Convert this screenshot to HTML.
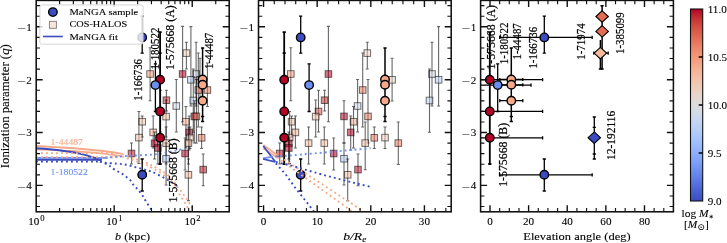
<!DOCTYPE html>
<html><head><meta charset="utf-8"><title>Ionization parameter</title>
<style>html,body{margin:0;padding:0;background:#fff;overflow:hidden}svg{display:block}text{stroke:#000;stroke-width:.1px}</style></head>
<body>
<svg width="727" height="243" viewBox="0 0 727 243" font-family="'Liberation Serif', 'DejaVu Serif', serif">
<rect x="0" y="0" width="727" height="243" fill="#fff"/>
<defs>
<clipPath id="c0"><rect x="36.2" y="0.4" width="193.0" height="211.4"/></clipPath>
<clipPath id="c1"><rect x="258.5" y="0.4" width="192.7" height="211.4"/></clipPath>
<clipPath id="c2"><rect x="480.6" y="0.4" width="192.79999999999995" height="211.4"/></clipPath>
<linearGradient id="cw" x1="0" y1="0" x2="0" y2="1"><stop offset="0.00" stop-color="#b30326"/><stop offset="0.05" stop-color="#c53233"/><stop offset="0.10" stop-color="#d65243"/><stop offset="0.15" stop-color="#e36c54"/><stop offset="0.20" stop-color="#ed8467"/><stop offset="0.25" stop-color="#f39879"/><stop offset="0.30" stop-color="#f6ab8d"/><stop offset="0.35" stop-color="#f6bca2"/><stop offset="0.40" stop-color="#f1cab6"/><stop offset="0.45" stop-color="#e8d5ca"/><stop offset="0.50" stop-color="#dddcdb"/><stop offset="0.55" stop-color="#cfd9ea"/><stop offset="0.60" stop-color="#c0d3f5"/><stop offset="0.65" stop-color="#afcafb"/><stop offset="0.70" stop-color="#9dbdfe"/><stop offset="0.75" stop-color="#8daffd"/><stop offset="0.80" stop-color="#7b9ef8"/><stop offset="0.85" stop-color="#698bef"/><stop offset="0.90" stop-color="#5876e2"/><stop offset="0.95" stop-color="#4860d1"/><stop offset="1.00" stop-color="#3a4cc0"/></linearGradient>
</defs>
<g clip-path="url(#c0)">
<path d="M186.4 42.3V69.0M184.9 42.3h3M184.9 69.0h3" stroke="#000" stroke-opacity="0.6" stroke-width="1.1" fill="none"/><rect x="183.1" y="49.8" width="6.6" height="6.6" fill="#eecfbe" fill-opacity="0.55" stroke="#000" stroke-opacity="0.55" stroke-width="1.0"/>
<path d="M150.1 47.8V100.7M148.6 47.8h3M148.6 100.7h3" stroke="#000" stroke-opacity="0.6" stroke-width="1.1" fill="none"/><rect x="146.8" y="70.7" width="6.6" height="6.6" fill="#f49d7e" fill-opacity="0.55" stroke="#000" stroke-opacity="0.55" stroke-width="1.0"/>
<path d="M182.6 26.4V121.7M181.1 26.4h3M181.1 121.7h3" stroke="#000" stroke-opacity="0.6" stroke-width="1.1" fill="none"/><rect x="179.3" y="70.7" width="6.6" height="6.6" fill="#b30326" fill-opacity="0.55" stroke="#000" stroke-opacity="0.55" stroke-width="1.0"/>
<path d="M196.1 42.3V106.0M194.6 42.3h3M194.6 106.0h3" stroke="#000" stroke-opacity="0.6" stroke-width="1.1" fill="none"/><rect x="192.8" y="70.7" width="6.6" height="6.6" fill="#cfd9ea" fill-opacity="0.55" stroke="#000" stroke-opacity="0.55" stroke-width="1.0"/>
<path d="M190.9 26.6V106.0M189.4 26.6h3M189.4 106.0h3" stroke="#000" stroke-opacity="0.6" stroke-width="1.1" fill="none"/><rect x="187.6" y="76.5" width="6.6" height="6.6" fill="#b9d0f8" fill-opacity="0.55" stroke="#000" stroke-opacity="0.55" stroke-width="1.0"/>
<path d="M200.0 58.3V101.0M198.5 58.3h3M198.5 101.0h3" stroke="#000" stroke-opacity="0.6" stroke-width="1.1" fill="none"/><rect x="196.7" y="76.5" width="6.6" height="6.6" fill="#e8d5ca" fill-opacity="0.55" stroke="#000" stroke-opacity="0.55" stroke-width="1.0"/>
<path d="M198.3 53.0V127.0M196.8 53.0h3M196.8 127.0h3" stroke="#000" stroke-opacity="0.6" stroke-width="1.1" fill="none"/><rect x="195.0" y="86.7" width="6.6" height="6.6" fill="#ea7b60" fill-opacity="0.55" stroke="#000" stroke-opacity="0.55" stroke-width="1.0"/>
<path d="M207.4 63.0V106.5M205.9 63.0h3M205.9 106.5h3" stroke="#000" stroke-opacity="0.6" stroke-width="1.1" fill="none"/><rect x="204.1" y="86.7" width="6.6" height="6.6" fill="#ea7b60" fill-opacity="0.55" stroke="#000" stroke-opacity="0.55" stroke-width="1.0"/>
<path d="M166.4 90.2V111.0M164.9 90.2h3M164.9 111.0h3" stroke="#000" stroke-opacity="0.6" stroke-width="1.1" fill="none"/><rect x="163.1" y="96.9" width="6.6" height="6.6" fill="#c53233" fill-opacity="0.55" stroke="#000" stroke-opacity="0.55" stroke-width="1.0"/>
<path d="M193.3 69.0V132.3M191.8 69.0h3M191.8 132.3h3" stroke="#000" stroke-opacity="0.6" stroke-width="1.1" fill="none"/><rect x="190.0" y="97.2" width="6.6" height="6.6" fill="#c0d3f5" fill-opacity="0.55" stroke="#000" stroke-opacity="0.55" stroke-width="1.0"/>
<path d="M176.3 79.5V132.0M174.8 79.5h3M174.8 132.0h3" stroke="#000" stroke-opacity="0.6" stroke-width="1.1" fill="none"/><rect x="173.0" y="102.7" width="6.6" height="6.6" fill="#cfd9ea" fill-opacity="0.55" stroke="#000" stroke-opacity="0.55" stroke-width="1.0"/>
<path d="M160.6 90.2V132.0M159.1 90.2h3M159.1 132.0h3" stroke="#000" stroke-opacity="0.6" stroke-width="1.1" fill="none"/><rect x="157.3" y="108.2" width="6.6" height="6.6" fill="#de624e" fill-opacity="0.55" stroke="#000" stroke-opacity="0.55" stroke-width="1.0"/>
<path d="M166.1 100.0V137.0M164.6 100.0h3M164.6 137.0h3" stroke="#000" stroke-opacity="0.6" stroke-width="1.1" fill="none"/><rect x="162.8" y="113.3" width="6.6" height="6.6" fill="#f4c2aa" fill-opacity="0.55" stroke="#000" stroke-opacity="0.55" stroke-width="1.0"/>
<path d="M194.3 100.7V143.0M192.8 100.7h3M192.8 143.0h3" stroke="#000" stroke-opacity="0.6" stroke-width="1.1" fill="none"/><rect x="191.0" y="113.1" width="6.6" height="6.6" fill="#b30326" fill-opacity="0.55" stroke="#000" stroke-opacity="0.55" stroke-width="1.0"/>
<path d="M196.4 79.5V143.0M194.9 79.5h3M194.9 143.0h3" stroke="#000" stroke-opacity="0.6" stroke-width="1.1" fill="none"/><rect x="193.1" y="113.1" width="6.6" height="6.6" fill="#ea7b60" fill-opacity="0.55" stroke="#000" stroke-opacity="0.55" stroke-width="1.0"/>
<path d="M142.2 116.0V137.0M140.7 116.0h3M140.7 137.0h3" stroke="#000" stroke-opacity="0.6" stroke-width="1.1" fill="none"/><rect x="138.9" y="118.4" width="6.6" height="6.6" fill="#f3c5af" fill-opacity="0.55" stroke="#000" stroke-opacity="0.55" stroke-width="1.0"/>
<path d="M185.9 106.5V148.0M184.4 106.5h3M184.4 148.0h3" stroke="#000" stroke-opacity="0.6" stroke-width="1.1" fill="none"/><rect x="182.6" y="118.4" width="6.6" height="6.6" fill="#f7b295" fill-opacity="0.55" stroke="#000" stroke-opacity="0.55" stroke-width="1.0"/>
<path d="M153.2 116.0V148.0M151.7 116.0h3M151.7 148.0h3" stroke="#000" stroke-opacity="0.6" stroke-width="1.1" fill="none"/><rect x="149.9" y="129.1" width="6.6" height="6.6" fill="#f7b295" fill-opacity="0.55" stroke="#000" stroke-opacity="0.55" stroke-width="1.0"/>
<path d="M189.2 116.0V150.0M187.7 116.0h3M187.7 150.0h3" stroke="#000" stroke-opacity="0.6" stroke-width="1.1" fill="none"/><rect x="185.9" y="129.1" width="6.6" height="6.6" fill="#b30326" fill-opacity="0.55" stroke="#000" stroke-opacity="0.55" stroke-width="1.0"/>
<path d="M138.9 111.5V163.5M137.4 111.5h3M137.4 163.5h3" stroke="#000" stroke-opacity="0.6" stroke-width="1.1" fill="none"/><rect x="135.6" y="134.3" width="6.6" height="6.6" fill="#f2c7b2" fill-opacity="0.55" stroke="#000" stroke-opacity="0.55" stroke-width="1.0"/>
<path d="M190.0 127.0V148.5M188.5 127.0h3M188.5 148.5h3" stroke="#000" stroke-opacity="0.6" stroke-width="1.1" fill="none"/><rect x="186.7" y="134.3" width="6.6" height="6.6" fill="#eecfbe" fill-opacity="0.55" stroke="#000" stroke-opacity="0.55" stroke-width="1.0"/>
<path d="M201.6 127.0V148.5M200.1 127.0h3M200.1 148.5h3" stroke="#000" stroke-opacity="0.6" stroke-width="1.1" fill="none"/><rect x="198.3" y="134.5" width="6.6" height="6.6" fill="#ea7b60" fill-opacity="0.55" stroke="#000" stroke-opacity="0.55" stroke-width="1.0"/>
<path d="M154.6 132.0V159.0M153.1 132.0h3M153.1 159.0h3" stroke="#000" stroke-opacity="0.6" stroke-width="1.1" fill="none"/><rect x="151.3" y="140.0" width="6.6" height="6.6" fill="#b30326" fill-opacity="0.55" stroke="#000" stroke-opacity="0.55" stroke-width="1.0"/>
<path d="M166.1 127.0V164.0M164.6 127.0h3M164.6 164.0h3" stroke="#000" stroke-opacity="0.6" stroke-width="1.1" fill="none"/><rect x="162.8" y="139.8" width="6.6" height="6.6" fill="#f5c0a7" fill-opacity="0.55" stroke="#000" stroke-opacity="0.55" stroke-width="1.0"/>
<path d="M188.4 127.0V164.0M186.9 127.0h3M186.9 164.0h3" stroke="#000" stroke-opacity="0.6" stroke-width="1.1" fill="none"/><rect x="185.1" y="139.8" width="6.6" height="6.6" fill="#f5c0a7" fill-opacity="0.55" stroke="#000" stroke-opacity="0.55" stroke-width="1.0"/>
<path d="M157.9 138.0V164.0M156.4 138.0h3M156.4 164.0h3" stroke="#000" stroke-opacity="0.6" stroke-width="1.1" fill="none"/><rect x="154.6" y="144.7" width="6.6" height="6.6" fill="#b30326" fill-opacity="0.55" stroke="#000" stroke-opacity="0.55" stroke-width="1.0"/>
<path d="M131.5 143.0V164.0M130.0 143.0h3M130.0 164.0h3" stroke="#000" stroke-opacity="0.6" stroke-width="1.1" fill="none"/><rect x="128.2" y="150.2" width="6.6" height="6.6" fill="#bb1a2b" fill-opacity="0.55" stroke="#000" stroke-opacity="0.55" stroke-width="1.0"/>
<path d="M185.1 138.0V170.0M183.6 138.0h3M183.6 170.0h3" stroke="#000" stroke-opacity="0.6" stroke-width="1.1" fill="none"/><rect x="181.8" y="150.2" width="6.6" height="6.6" fill="#b30326" fill-opacity="0.55" stroke="#000" stroke-opacity="0.55" stroke-width="1.0"/>
<path d="M166.1 143.0V185.0M164.6 143.0h3M164.6 185.0h3" stroke="#000" stroke-opacity="0.6" stroke-width="1.1" fill="none"/><rect x="162.8" y="155.4" width="6.6" height="6.6" fill="#b6cef9" fill-opacity="0.55" stroke="#000" stroke-opacity="0.55" stroke-width="1.0"/>
<path d="M203.2 154.0V185.7M201.7 154.0h3M201.7 185.7h3" stroke="#000" stroke-opacity="0.6" stroke-width="1.1" fill="none"/><rect x="199.9" y="166.3" width="6.6" height="6.6" fill="#bb1a2b" fill-opacity="0.55" stroke="#000" stroke-opacity="0.55" stroke-width="1.0"/>
<path d="M188.4 159.0V200.6M186.9 159.0h3M186.9 200.6h3" stroke="#000" stroke-opacity="0.6" stroke-width="1.1" fill="none"/><rect x="185.1" y="171.5" width="6.6" height="6.6" fill="#f6ba9f" fill-opacity="0.55" stroke="#000" stroke-opacity="0.55" stroke-width="1.0"/>
<path d="M36 146.0 C70 147.5 100 150 122.5 153.8" stroke="#f6a98a" stroke-width="1.85" fill="none"/><path d="M36 149.4 C70 150.5 100 152.5 122.5 156.4" stroke="#f6a98a" stroke-width="1.85" fill="none"/><path d="M36 157.8 H108" stroke="#6c8ef1" stroke-width="1.85" fill="none"/><path d="M36 148.2 C55 149.5 75 152 86 155.2 S97 159 101 160.6" stroke="#3a4cc0" stroke-width="1.85" fill="none"/><path d="M36 159.7 H102" stroke="#3a4cc0" stroke-width="1.85" fill="none"/><path d="M36 153.1 H120" stroke="#f6a98a" stroke-dasharray="1.9 3.1" stroke-width="1.9" fill="none"/><path d="M36 157.2 H120" stroke="#f6a98a" stroke-dasharray="1.9 3.1" stroke-width="1.9" fill="none"/><path d="M122.4 153.8C123.9 154.4 127.7 156.1 131.5 157.5C135.3 158.9 141.9 161.0 145.5 162.4C149.1 163.8 150.3 164.6 153.0 166.0C155.7 167.4 158.8 168.9 161.7 170.8C164.6 172.7 167.7 174.6 170.5 177.5C173.3 180.4 176.5 185.6 178.3 188.0C180.1 190.4 180.4 190.6 181.4 191.9C182.4 193.2 183.5 194.6 184.5 196.0C185.5 197.4 186.7 198.7 187.6 200.1C188.5 201.5 189.2 202.9 190.0 204.3C190.8 205.7 191.8 207.1 192.5 208.4C193.2 209.7 194.2 211.4 194.5 212.0" stroke="#f6a98a" stroke-dasharray="1.9 3.1" stroke-width="1.9" fill="none"/><path d="M122.4 156.4C123.8 156.9 127.2 158.3 130.9 159.6C134.6 160.9 141.1 162.8 144.6 164.2C148.1 165.6 149.3 166.4 152.0 167.8C154.7 169.2 157.8 170.9 160.7 172.8C163.6 174.8 167.0 177.5 169.3 179.5C171.6 181.5 173.1 182.7 174.6 184.9C176.1 187.1 177.4 190.6 178.5 192.7C179.6 194.8 180.5 195.8 181.4 197.3C182.3 198.8 183.3 200.2 184.2 201.6C185.1 203.0 185.8 204.6 186.6 205.9C187.4 207.2 188.2 208.3 188.8 209.3C189.5 210.3 190.2 211.6 190.5 212.0" stroke="#f6a98a" stroke-dasharray="1.9 3.1" stroke-width="1.9" fill="none"/><path d="M100.0 158.0C104.5 157.7 118.3 156.6 127.0 156.0C135.7 155.4 145.7 155.1 152.0 154.6C158.3 154.1 159.8 153.7 165.0 152.8C170.2 151.9 180.0 149.6 183.0 149.0" stroke="#6c8ef1" stroke-dasharray="1.9 3.1" stroke-width="1.9" fill="none"/><path d="M36 161.5 H100 " stroke="#3a4cc0" stroke-dasharray="1.9 3.1" stroke-width="1.9" fill="none"/><path d="M100.0 161.6C101.0 161.8 103.4 162.7 106.2 163.0C109.0 163.3 113.3 163.3 116.7 163.6C120.1 163.9 123.4 164.2 126.6 164.8C129.8 165.4 132.8 166.5 135.9 167.3C139.0 168.1 142.6 169.1 145.2 169.8C147.8 170.5 148.8 170.6 151.4 171.6C154.0 172.6 157.7 174.4 160.7 176.0C163.7 177.6 167.1 179.6 169.3 180.9C171.5 182.2 172.6 182.9 174.0 183.8C175.4 184.7 177.3 186.1 178.0 186.5" stroke="#3a4cc0" stroke-dasharray="1.9 3.1" stroke-width="1.9" fill="none"/><path d="M100.0 161.6C101.1 162.0 105.0 163.3 106.8 164.2C108.5 165.0 109.2 165.8 110.5 166.7C111.8 167.6 113.3 168.9 114.8 169.8C116.2 170.7 117.8 171.4 119.2 172.2C120.7 173.0 122.2 173.8 123.5 174.7C124.8 175.6 126.0 176.6 127.2 177.6C128.4 178.6 129.8 179.6 130.9 180.9C132.0 182.2 132.6 183.8 133.7 185.2C134.8 186.5 136.3 187.7 137.4 189.0C138.5 190.3 139.5 191.5 140.5 192.9C141.5 194.3 142.7 195.8 143.6 197.2C144.5 198.6 145.1 200.1 146.0 201.6C146.9 203.1 148.0 204.6 148.9 205.9C149.8 207.2 150.6 208.5 151.3 209.6C152.0 210.7 152.7 212.0 153.0 212.5" stroke="#3a4cc0" stroke-dasharray="1.9 3.1" stroke-width="1.9" fill="none"/>
<path d="M142.2 16.2V53.1M140.6 16.2h3.2M140.6 53.1h3.2" stroke="#000" stroke-width="1.3" fill="none"/>
<path d="M142.2 159.0V191.0M140.6 159.0h3.2M140.6 191.0h3.2" stroke="#000" stroke-width="1.3" fill="none"/>
<path d="M155.4 63.8V111.5M153.8 63.8h3.2M153.8 111.5h3.2" stroke="#000" stroke-width="1.3" fill="none"/>
<path d="M160.1 32.2V164.0M158.5 32.2h3.2M158.5 53.1h3.2M158.5 164.0h3.2" stroke="#000" stroke-width="1.8" fill="none"/>
<path d="M202.6 48.0V121.4M201.0 48.0h3.2M201.0 116.4h3.2M201.0 121.4h3.2" stroke="#000" stroke-width="1.5" fill="none"/>
<circle cx="142.2" cy="37.4" r="4.25" fill="#3a4cc0" stroke="#000" stroke-width="1.4"/>
<circle cx="142.2" cy="174.8" r="4.25" fill="#3a4cc0" stroke="#000" stroke-width="1.4"/>
<circle cx="160.1" cy="79.7" r="4.25" fill="#b30326" stroke="#000" stroke-width="1.4"/>
<circle cx="155.4" cy="85.1" r="4.25" fill="#6c8ef1" stroke="#000" stroke-width="1.4"/>
<circle cx="160.1" cy="111.4" r="4.25" fill="#b30326" stroke="#000" stroke-width="1.4"/>
<circle cx="160.1" cy="137.8" r="4.25" fill="#b30326" stroke="#000" stroke-width="1.4"/>
<circle cx="202.6" cy="79.5" r="4.25" fill="#f6a98a" stroke="#000" stroke-width="1.4"/>
<circle cx="202.6" cy="84.8" r="4.25" fill="#f6a98a" stroke="#000" stroke-width="1.4"/>
<circle cx="202.6" cy="100.7" r="4.25" fill="#f6a98a" stroke="#000" stroke-width="1.4"/>
<text transform="translate(142.3 100.7) rotate(-90) scale(1.0 1.15)" font-size="10.9" fill="#000" style="stroke-width:.2px">1-166736</text>
<text transform="translate(159.4 69.4) rotate(-90) scale(1.0 1.15)" font-size="10.9" fill="#000" style="stroke-width:.2px">1-180522</text>
<text transform="translate(173.6 70.0) rotate(-90) scale(1.085 1.15)" font-size="10.9" fill="#000" style="stroke-width:.2px">1-575668 (A)</text>
<text transform="translate(212.8 69.0) rotate(-90) scale(1.0 1.15)" font-size="10.9" fill="#000" style="stroke-width:.2px">1-44487</text>
<text transform="translate(177.2 202.4) rotate(-90) scale(1.085 1.15)" font-size="10.9" fill="#000" style="stroke-width:.2px">1-575668 (B)</text>
<text transform="translate(50.6 144.6) scale(1.08 1)" font-size="9.0" fill="#f6a98a" style="stroke:#f6a98a">1-44487</text>
<text transform="translate(50.6 174.5) scale(1.08 1)" font-size="9.0" fill="#6c8ef1" style="stroke:#6c8ef1">1-180522</text>
</g>
<g clip-path="url(#c1)">
<path d="M367.3 42.3V69.0M365.8 42.3h3M365.8 69.0h3" stroke="#000" stroke-opacity="0.6" stroke-width="1.1" fill="none"/><rect x="364.0" y="49.8" width="6.6" height="6.6" fill="#eecfbe" fill-opacity="0.55" stroke="#000" stroke-opacity="0.55" stroke-width="1.0"/>
<path d="M290.8 47.8V100.7M289.3 47.8h3M289.3 100.7h3" stroke="#000" stroke-opacity="0.6" stroke-width="1.1" fill="none"/><rect x="287.5" y="70.7" width="6.6" height="6.6" fill="#f49d7e" fill-opacity="0.55" stroke="#000" stroke-opacity="0.55" stroke-width="1.0"/>
<path d="M328.4 26.4V121.7M326.9 26.4h3M326.9 121.7h3" stroke="#000" stroke-opacity="0.6" stroke-width="1.1" fill="none"/><rect x="325.1" y="70.7" width="6.6" height="6.6" fill="#b30326" fill-opacity="0.55" stroke="#000" stroke-opacity="0.55" stroke-width="1.0"/>
<path d="M432.0 42.3V106.0M430.5 42.3h3M430.5 106.0h3" stroke="#000" stroke-opacity="0.6" stroke-width="1.1" fill="none"/><rect x="428.7" y="70.7" width="6.6" height="6.6" fill="#cfd9ea" fill-opacity="0.55" stroke="#000" stroke-opacity="0.55" stroke-width="1.0"/>
<path d="M438.6 26.6V106.0M437.1 26.6h3M437.1 106.0h3" stroke="#000" stroke-opacity="0.6" stroke-width="1.1" fill="none"/><rect x="435.3" y="76.5" width="6.6" height="6.6" fill="#b9d0f8" fill-opacity="0.55" stroke="#000" stroke-opacity="0.55" stroke-width="1.0"/>
<path d="M392.1 58.3V101.0M390.6 58.3h3M390.6 101.0h3" stroke="#000" stroke-opacity="0.6" stroke-width="1.1" fill="none"/><rect x="388.8" y="76.5" width="6.6" height="6.6" fill="#e8d5ca" fill-opacity="0.55" stroke="#000" stroke-opacity="0.55" stroke-width="1.0"/>
<path d="M362.7 53.0V127.0M361.2 53.0h3M361.2 127.0h3" stroke="#000" stroke-opacity="0.6" stroke-width="1.1" fill="none"/><rect x="359.4" y="86.7" width="6.6" height="6.6" fill="#ea7b60" fill-opacity="0.55" stroke="#000" stroke-opacity="0.55" stroke-width="1.0"/>
<path d="M324.6 90.2V111.0M323.1 90.2h3M323.1 111.0h3" stroke="#000" stroke-opacity="0.6" stroke-width="1.1" fill="none"/><rect x="321.3" y="96.9" width="6.6" height="6.6" fill="#c53233" fill-opacity="0.55" stroke="#000" stroke-opacity="0.55" stroke-width="1.0"/>
<path d="M429.5 69.0V132.3M428.0 69.0h3M428.0 132.3h3" stroke="#000" stroke-opacity="0.6" stroke-width="1.1" fill="none"/><rect x="426.2" y="97.2" width="6.6" height="6.6" fill="#c0d3f5" fill-opacity="0.55" stroke="#000" stroke-opacity="0.55" stroke-width="1.0"/>
<path d="M357.6 79.5V132.0M356.1 79.5h3M356.1 132.0h3" stroke="#000" stroke-opacity="0.6" stroke-width="1.1" fill="none"/><rect x="354.3" y="102.7" width="6.6" height="6.6" fill="#cfd9ea" fill-opacity="0.55" stroke="#000" stroke-opacity="0.55" stroke-width="1.0"/>
<path d="M318.5 90.2V132.0M317.0 90.2h3M317.0 132.0h3" stroke="#000" stroke-opacity="0.6" stroke-width="1.1" fill="none"/><rect x="315.2" y="108.2" width="6.6" height="6.6" fill="#de624e" fill-opacity="0.55" stroke="#000" stroke-opacity="0.55" stroke-width="1.0"/>
<path d="M315.7 100.0V137.0M314.2 100.0h3M314.2 137.0h3" stroke="#000" stroke-opacity="0.6" stroke-width="1.1" fill="none"/><rect x="312.4" y="113.3" width="6.6" height="6.6" fill="#f4c2aa" fill-opacity="0.55" stroke="#000" stroke-opacity="0.55" stroke-width="1.0"/>
<path d="M344.0 100.7V143.0M342.5 100.7h3M342.5 143.0h3" stroke="#000" stroke-opacity="0.6" stroke-width="1.1" fill="none"/><rect x="340.7" y="113.1" width="6.6" height="6.6" fill="#b30326" fill-opacity="0.55" stroke="#000" stroke-opacity="0.55" stroke-width="1.0"/>
<path d="M368.0 79.5V143.0M366.5 79.5h3M366.5 143.0h3" stroke="#000" stroke-opacity="0.6" stroke-width="1.1" fill="none"/><rect x="364.7" y="113.1" width="6.6" height="6.6" fill="#ea7b60" fill-opacity="0.55" stroke="#000" stroke-opacity="0.55" stroke-width="1.0"/>
<path d="M291.6 116.0V137.0M290.1 116.0h3M290.1 137.0h3" stroke="#000" stroke-opacity="0.6" stroke-width="1.1" fill="none"/><rect x="288.3" y="118.4" width="6.6" height="6.6" fill="#f3c5af" fill-opacity="0.55" stroke="#000" stroke-opacity="0.55" stroke-width="1.0"/>
<path d="M353.5 106.5V148.0M352.0 106.5h3M352.0 148.0h3" stroke="#000" stroke-opacity="0.6" stroke-width="1.1" fill="none"/><rect x="350.2" y="118.4" width="6.6" height="6.6" fill="#f7b295" fill-opacity="0.55" stroke="#000" stroke-opacity="0.55" stroke-width="1.0"/>
<path d="M295.4 116.0V148.0M293.9 116.0h3M293.9 148.0h3" stroke="#000" stroke-opacity="0.6" stroke-width="1.1" fill="none"/><rect x="292.1" y="129.1" width="6.6" height="6.6" fill="#f7b295" fill-opacity="0.55" stroke="#000" stroke-opacity="0.55" stroke-width="1.0"/>
<path d="M350.7 116.0V150.0M349.2 116.0h3M349.2 150.0h3" stroke="#000" stroke-opacity="0.6" stroke-width="1.1" fill="none"/><rect x="347.4" y="129.1" width="6.6" height="6.6" fill="#b30326" fill-opacity="0.55" stroke="#000" stroke-opacity="0.55" stroke-width="1.0"/>
<path d="M289.6 111.5V163.5M288.1 111.5h3M288.1 163.5h3" stroke="#000" stroke-opacity="0.6" stroke-width="1.1" fill="none"/><rect x="286.3" y="134.3" width="6.6" height="6.6" fill="#f2c7b2" fill-opacity="0.55" stroke="#000" stroke-opacity="0.55" stroke-width="1.0"/>
<path d="M385.0 127.0V148.5M383.5 127.0h3M383.5 148.5h3" stroke="#000" stroke-opacity="0.6" stroke-width="1.1" fill="none"/><rect x="381.7" y="134.3" width="6.6" height="6.6" fill="#eecfbe" fill-opacity="0.55" stroke="#000" stroke-opacity="0.55" stroke-width="1.0"/>
<path d="M374.3 127.0V148.5M372.8 127.0h3M372.8 148.5h3" stroke="#000" stroke-opacity="0.6" stroke-width="1.1" fill="none"/><rect x="371.0" y="134.5" width="6.6" height="6.6" fill="#ea7b60" fill-opacity="0.55" stroke="#000" stroke-opacity="0.55" stroke-width="1.0"/>
<path d="M288.8 132.0V159.0M287.3 132.0h3M287.3 159.0h3" stroke="#000" stroke-opacity="0.6" stroke-width="1.1" fill="none"/><rect x="285.5" y="140.0" width="6.6" height="6.6" fill="#b30326" fill-opacity="0.55" stroke="#000" stroke-opacity="0.55" stroke-width="1.0"/>
<path d="M308.6 127.0V164.0M307.1 127.0h3M307.1 164.0h3" stroke="#000" stroke-opacity="0.6" stroke-width="1.1" fill="none"/><rect x="305.3" y="139.8" width="6.6" height="6.6" fill="#f5c0a7" fill-opacity="0.55" stroke="#000" stroke-opacity="0.55" stroke-width="1.0"/>
<path d="M324.3 127.0V164.0M322.8 127.0h3M322.8 164.0h3" stroke="#000" stroke-opacity="0.6" stroke-width="1.1" fill="none"/><rect x="321.0" y="139.8" width="6.6" height="6.6" fill="#f5c0a7" fill-opacity="0.55" stroke="#000" stroke-opacity="0.55" stroke-width="1.0"/>
<path d="M365.2 122.0V169.8M363.7 122.0h3M363.7 169.8h3" stroke="#000" stroke-opacity="0.6" stroke-width="1.1" fill="none"/><rect x="361.9" y="139.8" width="6.6" height="6.6" fill="#f5c0a7" fill-opacity="0.55" stroke="#000" stroke-opacity="0.55" stroke-width="1.0"/>
<path d="M398.3 122.0V164.5M396.8 122.0h3M396.8 164.5h3" stroke="#000" stroke-opacity="0.6" stroke-width="1.1" fill="none"/><rect x="395.0" y="139.8" width="6.6" height="6.6" fill="#ea7b60" fill-opacity="0.55" stroke="#000" stroke-opacity="0.55" stroke-width="1.0"/>
<path d="M288.8 138.0V164.0M287.3 138.0h3M287.3 164.0h3" stroke="#000" stroke-opacity="0.6" stroke-width="1.1" fill="none"/><rect x="285.5" y="144.7" width="6.6" height="6.6" fill="#b30326" fill-opacity="0.55" stroke="#000" stroke-opacity="0.55" stroke-width="1.0"/>
<path d="M279.7 143.0V164.0M278.2 143.0h3M278.2 164.0h3" stroke="#000" stroke-opacity="0.6" stroke-width="1.1" fill="none"/><rect x="276.4" y="150.2" width="6.6" height="6.6" fill="#bb1a2b" fill-opacity="0.55" stroke="#000" stroke-opacity="0.55" stroke-width="1.0"/>
<path d="M333.7 138.0V170.0M332.2 138.0h3M332.2 170.0h3" stroke="#000" stroke-opacity="0.6" stroke-width="1.1" fill="none"/><rect x="330.4" y="150.2" width="6.6" height="6.6" fill="#b30326" fill-opacity="0.55" stroke="#000" stroke-opacity="0.55" stroke-width="1.0"/>
<path d="M344.0 143.0V185.0M342.5 143.0h3M342.5 185.0h3" stroke="#000" stroke-opacity="0.6" stroke-width="1.1" fill="none"/><rect x="340.7" y="155.4" width="6.6" height="6.6" fill="#b6cef9" fill-opacity="0.55" stroke="#000" stroke-opacity="0.55" stroke-width="1.0"/>
<path d="M358.0 154.0V185.7M356.5 154.0h3M356.5 185.7h3" stroke="#000" stroke-opacity="0.6" stroke-width="1.1" fill="none"/><rect x="354.7" y="166.3" width="6.6" height="6.6" fill="#bb1a2b" fill-opacity="0.55" stroke="#000" stroke-opacity="0.55" stroke-width="1.0"/>
<path d="M347.7 159.0V200.6M346.2 159.0h3M346.2 200.6h3" stroke="#000" stroke-opacity="0.6" stroke-width="1.1" fill="none"/><rect x="344.4" y="171.5" width="6.6" height="6.6" fill="#f6ba9f" fill-opacity="0.55" stroke="#000" stroke-opacity="0.55" stroke-width="1.0"/>
<path d="M300.7 16.2V53.1M299.1 16.2h3.2M299.1 53.1h3.2" stroke="#000" stroke-width="1.3" fill="none"/>
<path d="M300.7 159.0V191.0M299.1 159.0h3.2M299.1 191.0h3.2" stroke="#000" stroke-width="1.3" fill="none"/>
<path d="M309.1 63.8V111.5M307.5 63.8h3.2M307.5 111.5h3.2" stroke="#000" stroke-width="1.3" fill="none"/>
<path d="M284.2 32.2V164.0M282.6 32.2h3.2M282.6 53.1h3.2M282.6 164.0h3.2" stroke="#000" stroke-width="1.8" fill="none"/>
<path d="M385.0 48.0V121.4M383.4 48.0h3.2M383.4 116.4h3.2M383.4 121.4h3.2" stroke="#000" stroke-width="1.5" fill="none"/>
<circle cx="300.7" cy="37.4" r="4.25" fill="#3a4cc0" stroke="#000" stroke-width="1.4"/>
<circle cx="300.7" cy="174.8" r="4.25" fill="#3a4cc0" stroke="#000" stroke-width="1.4"/>
<circle cx="284.2" cy="79.7" r="4.25" fill="#b30326" stroke="#000" stroke-width="1.4"/>
<circle cx="309.1" cy="85.1" r="4.25" fill="#6c8ef1" stroke="#000" stroke-width="1.4"/>
<circle cx="284.2" cy="111.4" r="4.25" fill="#b30326" stroke="#000" stroke-width="1.4"/>
<circle cx="284.2" cy="137.8" r="4.25" fill="#b30326" stroke="#000" stroke-width="1.4"/>
<circle cx="385.0" cy="79.5" r="4.25" fill="#f6a98a" stroke="#000" stroke-width="1.4"/>
<circle cx="385.0" cy="84.8" r="4.25" fill="#f6a98a" stroke="#000" stroke-width="1.4"/>
<circle cx="385.0" cy="100.7" r="4.25" fill="#f6a98a" stroke="#000" stroke-width="1.4"/>
<path d="M263.3 145.0 L275.7 154" stroke="#f6a98a" stroke-width="1.7" fill="none"/><path d="M263.3 148.3 L277 157.4" stroke="#f6a98a" stroke-width="1.7" fill="none"/><path d="M263.3 146.0 L275.3 161.8" stroke="#3a4cc0" stroke-width="1.7" fill="none"/><path d="M263 158.3 L273 156.6" stroke="#6c8ef1" stroke-width="1.7" fill="none"/><path d="M263 159.0 L275.3 161.8" stroke="#3a4cc0" stroke-width="1.7" fill="none"/><path d="M275.7 154 L363.9 211.5" stroke="#f6a98a" stroke-dasharray="1.9 3.1" stroke-width="1.9" fill="none"/><path d="M277 157.4 L352.3 211.5" stroke="#f6a98a" stroke-dasharray="1.9 3.1" stroke-width="1.9" fill="none"/><path d="M275 156.6 C290 155.7 330 152 370.6 148.2" stroke="#6c8ef1" stroke-dasharray="1.9 3.1" stroke-width="1.9" fill="none"/><path d="M275.8 163.3 L285.7 174.4 L295.4 188 L314.4 212" stroke="#3a4cc0" stroke-dasharray="1.9 3.1" stroke-width="1.9" fill="none"/><path d="M276 162 C281 163.3 290 165 303 169 S340 179.5 370.6 186.9" stroke="#3a4cc0" stroke-dasharray="1.9 3.1" stroke-width="1.9" fill="none"/>
</g>
<g clip-path="url(#c2)">
<path d="M544.3 16.2V53.1M542.7 16.2h3.2M542.7 53.1h3.2" stroke="#000" stroke-width="1.3" fill="none"/>
<path d="M544.3 159.0V191.0M542.7 159.0h3.2M542.7 191.0h3.2" stroke="#000" stroke-width="1.3" fill="none"/>
<path d="M499.7 37.4H592.2M499.7 35.8v3.2M592.2 35.8v3.2" stroke="#000" stroke-width="1.3" fill="none"/>
<path d="M499.7 174.8H592.2M499.7 173.2v3.2M592.2 173.2v3.2" stroke="#000" stroke-width="1.3" fill="none"/>
<path d="M497.7 63.8V111.5M496.1 63.8h3.2M496.1 111.5h3.2" stroke="#000" stroke-width="1.3" fill="none"/>
<path d="M470.0 85.1H531.0M531.0 83.5v3.2" stroke="#000" stroke-width="1.3" fill="none"/>
<path d="M489.8 32.2V164.0M488.2 32.2h3.2M488.2 53.1h3.2M488.2 164.0h3.2" stroke="#000" stroke-width="1.8" fill="none"/>
<path d="M470.0 79.7H542.6M542.6 78.1v3.2" stroke="#000" stroke-width="1.3" fill="none"/>
<path d="M470.0 111.4H542.6M542.6 109.8v3.2" stroke="#000" stroke-width="1.3" fill="none"/>
<path d="M470.0 137.8H542.6M542.6 136.2v3.2" stroke="#000" stroke-width="1.3" fill="none"/>
<path d="M511.3 48.0V121.4M509.7 48.0h3.2M509.7 116.4h3.2M509.7 121.4h3.2" stroke="#000" stroke-width="1.5" fill="none"/>
<path d="M499.8 79.5H522.8M499.8 77.9v3.2M522.8 77.9v3.2" stroke="#000" stroke-width="1.3" fill="none"/>
<path d="M499.8 84.8H522.8M499.8 83.2v3.2M522.8 83.2v3.2" stroke="#000" stroke-width="1.3" fill="none"/>
<path d="M499.8 100.7H522.8M499.8 99.1v3.2M522.8 99.1v3.2" stroke="#000" stroke-width="1.3" fill="none"/>
<path d="M602.1 5.8V69.1M600.5 5.8h3.2M600.5 69.1h3.2" stroke="#000" stroke-width="1.5" fill="none"/>
<path d="M600.4 40.0V69.1M598.8 69.1h3.2" stroke="#000" stroke-width="1.5" fill="none"/>
<path d="M593.8 53.1H608.2M593.8 51.5v3.2M608.2 51.5v3.2" stroke="#000" stroke-width="1.3" fill="none"/>
<path d="M594.3 117.0V159.0M592.7 117.0h3.2M592.7 127.3h3.2M592.7 154.0h3.2M592.7 159.0h3.2" stroke="#000" stroke-width="1.3" fill="none"/>
<circle cx="544.3" cy="37.4" r="4.25" fill="#3a4cc0" stroke="#000" stroke-width="1.4"/>
<circle cx="544.3" cy="174.8" r="4.25" fill="#3a4cc0" stroke="#000" stroke-width="1.4"/>
<circle cx="489.8" cy="79.7" r="4.25" fill="#b30326" stroke="#000" stroke-width="1.4"/>
<circle cx="497.7" cy="85.1" r="4.25" fill="#6c8ef1" stroke="#000" stroke-width="1.4"/>
<circle cx="489.8" cy="111.4" r="4.25" fill="#b30326" stroke="#000" stroke-width="1.4"/>
<circle cx="489.8" cy="137.8" r="4.25" fill="#b30326" stroke="#000" stroke-width="1.4"/>
<circle cx="511.3" cy="79.5" r="4.25" fill="#f6a98a" stroke="#000" stroke-width="1.4"/>
<circle cx="511.3" cy="84.8" r="4.25" fill="#f6a98a" stroke="#000" stroke-width="1.4"/>
<circle cx="511.3" cy="100.7" r="4.25" fill="#f6a98a" stroke="#000" stroke-width="1.4"/>
<path d="M602.1 10.8L608.4 16.5L602.1 22.2L595.9 16.5Z" fill="#e36c54" stroke="#000" stroke-width="1.1" stroke-linejoin="miter"/>
<path d="M602.1 25.6L608.4 31.4L602.1 37.1L595.9 31.4Z" fill="#e36c54" stroke="#000" stroke-width="1.1" stroke-linejoin="miter"/>
<path d="M600.4 47.4L606.6 53.1L600.4 58.9L594.1 53.1Z" fill="#f6ba9f" stroke="#000" stroke-width="1.1" stroke-linejoin="miter"/>
<path d="M594.3 131.9L600.5 137.7L594.3 143.4L588.0 137.7Z" fill="#3a4cc0" stroke="#000" stroke-width="1.1" stroke-linejoin="miter"/>
<text transform="translate(494.9 69.6) rotate(-90) scale(1.085 1.15)" font-size="10.9" fill="#000" style="stroke-width:.2px">1-575668 (A)</text>
<text transform="translate(508.4 64.3) rotate(-90) scale(1.0 1.15)" font-size="10.9" fill="#000" style="stroke-width:.2px">1-180522</text>
<text transform="translate(520.6 59.5) rotate(-90) scale(1.0 1.15)" font-size="10.9" fill="#000" style="stroke-width:.2px">1-44487</text>
<text transform="translate(536.8 68.6) rotate(-90) scale(1.0 1.15)" font-size="10.9" fill="#000" style="stroke-width:.2px">1-166736</text>
<text transform="translate(585.0 59.7) rotate(-90) scale(1.0 1.15)" font-size="10.9" fill="#000" style="stroke-width:.2px">1-71974</text>
<text transform="translate(623.5 54.0) rotate(-90) scale(1.0 1.15)" font-size="10.9" fill="#000" style="stroke-width:.2px">1-385099</text>
<text transform="translate(614.5 160.0) rotate(-90) scale(1.05 1.15)" font-size="10.9" fill="#000" style="stroke-width:.2px">12-192116</text>
<text transform="translate(507.4 186.8) rotate(-90) scale(1.085 1.15)" font-size="10.9" fill="#000" style="stroke-width:.2px">1-575668 (B)</text>
</g>
<path d="M36.2 26.82h6.5M229.2 26.82h-6.5M36.2 79.68h6.5M229.2 79.68h-6.5M36.2 132.53h6.5M229.2 132.53h-6.5M36.2 185.38h6.5M229.2 185.38h-6.5M114.17 211.8v-6.5M114.17 0.4v6.5M192.24 211.8v-6.5M192.24 0.4v6.5" stroke="#111" stroke-width="1.4" fill="none"/>
<path d="M36.2 5.68h3.8M229.2 5.68h-3.8M36.2 16.26h3.8M229.2 16.26h-3.8M36.2 37.39h3.8M229.2 37.39h-3.8M36.2 47.96h3.8M229.2 47.96h-3.8M36.2 58.54h3.8M229.2 58.54h-3.8M36.2 69.11h3.8M229.2 69.11h-3.8M36.2 90.25h3.8M229.2 90.25h-3.8M36.2 100.81h3.8M229.2 100.81h-3.8M36.2 111.39h3.8M229.2 111.39h-3.8M36.2 121.95h3.8M229.2 121.95h-3.8M36.2 143.10h3.8M229.2 143.10h-3.8M36.2 153.66h3.8M229.2 153.66h-3.8M36.2 164.24h3.8M229.2 164.24h-3.8M36.2 174.81h3.8M229.2 174.81h-3.8M36.2 195.95h3.8M229.2 195.95h-3.8M36.2 206.52h3.8M229.2 206.52h-3.8M59.60 211.8v-3.8M59.60 0.4v3.8M73.35 211.8v-3.8M73.35 0.4v3.8M83.10 211.8v-3.8M83.10 0.4v3.8M90.67 211.8v-3.8M90.67 0.4v3.8M96.85 211.8v-3.8M96.85 0.4v3.8M102.08 211.8v-3.8M102.08 0.4v3.8M106.60 211.8v-3.8M106.60 0.4v3.8M110.60 211.8v-3.8M110.60 0.4v3.8M137.67 211.8v-3.8M137.67 0.4v3.8M151.42 211.8v-3.8M151.42 0.4v3.8M161.17 211.8v-3.8M161.17 0.4v3.8M168.74 211.8v-3.8M168.74 0.4v3.8M174.92 211.8v-3.8M174.92 0.4v3.8M180.15 211.8v-3.8M180.15 0.4v3.8M184.67 211.8v-3.8M184.67 0.4v3.8M188.67 211.8v-3.8M188.67 0.4v3.8M215.74 211.8v-3.8M215.74 0.4v3.8" stroke="#111" stroke-width="1.15" fill="none"/>
<rect x="36.2" y="0.4" width="193.0" height="211.4" fill="none" stroke="#111" stroke-width="1.55"/>
<text transform="translate(31.8 30.6) scale(1.05 1)" font-size="10.6" text-anchor="end">1</text>
<text transform="translate(16.9 32.3) scale(1.4 1)" font-size="11" style="stroke-width:0" fill="#222">−</text>
<text transform="translate(31.8 83.5) scale(1.05 1)" font-size="10.6" text-anchor="end">2</text>
<text transform="translate(16.9 85.2) scale(1.4 1)" font-size="11" style="stroke-width:0" fill="#222">−</text>
<text transform="translate(31.8 136.3) scale(1.05 1)" font-size="10.6" text-anchor="end">3</text>
<text transform="translate(16.9 138.0) scale(1.4 1)" font-size="11" style="stroke-width:0" fill="#222">−</text>
<text transform="translate(31.8 189.2) scale(1.05 1)" font-size="10.6" text-anchor="end">4</text>
<text transform="translate(16.9 190.9) scale(1.4 1)" font-size="11" style="stroke-width:0" fill="#222">−</text>
<path d="M258.5 26.82h6.5M451.2 26.82h-6.5M258.5 79.68h6.5M451.2 79.68h-6.5M258.5 132.53h6.5M451.2 132.53h-6.5M258.5 185.38h6.5M451.2 185.38h-6.5M263.55 211.8v-6.5M263.55 0.4v6.5M317.17 211.8v-6.5M317.17 0.4v6.5M370.79 211.8v-6.5M370.79 0.4v6.5M424.41 211.8v-6.5M424.41 0.4v6.5" stroke="#111" stroke-width="1.4" fill="none"/>
<path d="M258.5 5.68h3.8M451.2 5.68h-3.8M258.5 16.26h3.8M451.2 16.26h-3.8M258.5 37.39h3.8M451.2 37.39h-3.8M258.5 47.96h3.8M451.2 47.96h-3.8M258.5 58.54h3.8M451.2 58.54h-3.8M258.5 69.11h3.8M451.2 69.11h-3.8M258.5 90.25h3.8M451.2 90.25h-3.8M258.5 100.81h3.8M451.2 100.81h-3.8M258.5 111.39h3.8M451.2 111.39h-3.8M258.5 121.95h3.8M451.2 121.95h-3.8M258.5 143.10h3.8M451.2 143.10h-3.8M258.5 153.66h3.8M451.2 153.66h-3.8M258.5 164.24h3.8M451.2 164.24h-3.8M258.5 174.81h3.8M451.2 174.81h-3.8M258.5 195.95h3.8M451.2 195.95h-3.8M258.5 206.52h3.8M451.2 206.52h-3.8M274.27 211.8v-3.8M274.27 0.4v3.8M285.00 211.8v-3.8M285.00 0.4v3.8M295.72 211.8v-3.8M295.72 0.4v3.8M306.45 211.8v-3.8M306.45 0.4v3.8M327.89 211.8v-3.8M327.89 0.4v3.8M338.62 211.8v-3.8M338.62 0.4v3.8M349.34 211.8v-3.8M349.34 0.4v3.8M360.07 211.8v-3.8M360.07 0.4v3.8M381.51 211.8v-3.8M381.51 0.4v3.8M392.24 211.8v-3.8M392.24 0.4v3.8M402.96 211.8v-3.8M402.96 0.4v3.8M413.69 211.8v-3.8M413.69 0.4v3.8M435.13 211.8v-3.8M435.13 0.4v3.8M445.86 211.8v-3.8M445.86 0.4v3.8" stroke="#111" stroke-width="1.15" fill="none"/>
<rect x="258.5" y="0.4" width="192.7" height="211.4" fill="none" stroke="#111" stroke-width="1.55"/>
<text transform="translate(254.1 30.6) scale(1.05 1)" font-size="10.6" text-anchor="end">1</text>
<text transform="translate(239.2 32.3) scale(1.4 1)" font-size="11" style="stroke-width:0" fill="#222">−</text>
<text transform="translate(254.1 83.5) scale(1.05 1)" font-size="10.6" text-anchor="end">2</text>
<text transform="translate(239.2 85.2) scale(1.4 1)" font-size="11" style="stroke-width:0" fill="#222">−</text>
<text transform="translate(254.1 136.3) scale(1.05 1)" font-size="10.6" text-anchor="end">3</text>
<text transform="translate(239.2 138.0) scale(1.4 1)" font-size="11" style="stroke-width:0" fill="#222">−</text>
<text transform="translate(254.1 189.2) scale(1.05 1)" font-size="10.6" text-anchor="end">4</text>
<text transform="translate(239.2 190.9) scale(1.4 1)" font-size="11" style="stroke-width:0" fill="#222">−</text>
<path d="M480.6 26.82h6.5M673.4 26.82h-6.5M480.6 79.68h6.5M673.4 79.68h-6.5M480.6 132.53h6.5M673.4 132.53h-6.5M480.6 185.38h6.5M673.4 185.38h-6.5M490.00 211.8v-6.5M490.00 0.4v6.5M528.62 211.8v-6.5M528.62 0.4v6.5M567.24 211.8v-6.5M567.24 0.4v6.5M605.86 211.8v-6.5M605.86 0.4v6.5M644.48 211.8v-6.5M644.48 0.4v6.5" stroke="#111" stroke-width="1.4" fill="none"/>
<path d="M480.6 5.68h3.8M673.4 5.68h-3.8M480.6 16.26h3.8M673.4 16.26h-3.8M480.6 37.39h3.8M673.4 37.39h-3.8M480.6 47.96h3.8M673.4 47.96h-3.8M480.6 58.54h3.8M673.4 58.54h-3.8M480.6 69.11h3.8M673.4 69.11h-3.8M480.6 90.25h3.8M673.4 90.25h-3.8M480.6 100.81h3.8M673.4 100.81h-3.8M480.6 111.39h3.8M673.4 111.39h-3.8M480.6 121.95h3.8M673.4 121.95h-3.8M480.6 143.10h3.8M673.4 143.10h-3.8M480.6 153.66h3.8M673.4 153.66h-3.8M480.6 164.24h3.8M673.4 164.24h-3.8M480.6 174.81h3.8M673.4 174.81h-3.8M480.6 195.95h3.8M673.4 195.95h-3.8M480.6 206.52h3.8M673.4 206.52h-3.8M499.65 211.8v-3.8M499.65 0.4v3.8M509.31 211.8v-3.8M509.31 0.4v3.8M518.97 211.8v-3.8M518.97 0.4v3.8M538.27 211.8v-3.8M538.27 0.4v3.8M547.93 211.8v-3.8M547.93 0.4v3.8M557.59 211.8v-3.8M557.59 0.4v3.8M576.89 211.8v-3.8M576.89 0.4v3.8M586.55 211.8v-3.8M586.55 0.4v3.8M596.21 211.8v-3.8M596.21 0.4v3.8M615.51 211.8v-3.8M615.51 0.4v3.8M625.17 211.8v-3.8M625.17 0.4v3.8M634.83 211.8v-3.8M634.83 0.4v3.8M654.13 211.8v-3.8M654.13 0.4v3.8M663.79 211.8v-3.8M663.79 0.4v3.8" stroke="#111" stroke-width="1.15" fill="none"/>
<rect x="480.6" y="0.4" width="192.8" height="211.4" fill="none" stroke="#111" stroke-width="1.55"/>
<text transform="translate(476.2 30.6) scale(1.05 1)" font-size="10.6" text-anchor="end">1</text>
<text transform="translate(461.3 32.3) scale(1.4 1)" font-size="11" style="stroke-width:0" fill="#222">−</text>
<text transform="translate(476.2 83.5) scale(1.05 1)" font-size="10.6" text-anchor="end">2</text>
<text transform="translate(461.3 85.2) scale(1.4 1)" font-size="11" style="stroke-width:0" fill="#222">−</text>
<text transform="translate(476.2 136.3) scale(1.05 1)" font-size="10.6" text-anchor="end">3</text>
<text transform="translate(461.3 138.0) scale(1.4 1)" font-size="11" style="stroke-width:0" fill="#222">−</text>
<text transform="translate(476.2 189.2) scale(1.05 1)" font-size="10.6" text-anchor="end">4</text>
<text transform="translate(461.3 190.9) scale(1.4 1)" font-size="11" style="stroke-width:0" fill="#222">−</text>
<text transform="translate(28.3 224.9) scale(1.05 1)" font-size="10.6">10<tspan dy="-4.4" dx="0.7" font-size="8.2">0</tspan></text>
<text transform="translate(106.3 224.9) scale(1.05 1)" font-size="10.6">10<tspan dy="-4.4" dx="0.7" font-size="8.2">1</tspan></text>
<text transform="translate(184.4 224.9) scale(1.05 1)" font-size="10.6">10<tspan dy="-4.4" dx="0.7" font-size="8.2">2</tspan></text>
<text transform="translate(263.6 224.6) scale(1.05 1)" font-size="10.6" text-anchor="middle">0</text>
<text transform="translate(317.2 224.6) scale(1.05 1)" font-size="10.6" text-anchor="middle">10</text>
<text transform="translate(370.8 224.6) scale(1.05 1)" font-size="10.6" text-anchor="middle">20</text>
<text transform="translate(424.4 224.6) scale(1.05 1)" font-size="10.6" text-anchor="middle">30</text>
<text transform="translate(490.0 224.6) scale(1.05 1)" font-size="10.6" text-anchor="middle">0</text>
<text transform="translate(528.6 224.6) scale(1.05 1)" font-size="10.6" text-anchor="middle">20</text>
<text transform="translate(567.2 224.6) scale(1.05 1)" font-size="10.6" text-anchor="middle">40</text>
<text transform="translate(605.9 224.6) scale(1.05 1)" font-size="10.6" text-anchor="middle">60</text>
<text transform="translate(644.5 224.6) scale(1.05 1)" font-size="10.6" text-anchor="middle">80</text>
<text transform="translate(132.5 240) scale(1.10 1)" font-size="11.1" text-anchor="middle"><tspan font-style="italic">b</tspan> (kpc)</text>
<text transform="translate(354.8 240) scale(1.23 1)" font-size="11.1" text-anchor="middle" font-style="italic">b/R<tspan dy="1.8" font-size="7.6">e</tspan></text>
<text transform="translate(576.9 240) scale(1.124 1)" font-size="11.1" text-anchor="middle">Elevation angle (deg)</text>
<text transform="translate(8.8 106.2) rotate(-90) scale(1.12 1.03)" font-size="11.4" text-anchor="middle">Ionization parameter (<tspan font-style="italic">q</tspan>)</text>
<rect x="39.9" y="5" width="103.2" height="39.2" rx="2" ry="2" fill="#fff" fill-opacity="0.8" stroke="#ccc" stroke-opacity="0.8" stroke-width="1"/>
<circle cx="52.9" cy="12.1" r="4.25" fill="#3a4cc0" stroke="#000" stroke-width="1.4"/>
<rect x="49.4" y="21.3" width="7" height="7" fill="#eecfbe" fill-opacity="0.5" stroke="#000" stroke-opacity="0.5" stroke-width="0.9"/>
<path d="M43 36.5H62.8" stroke="#3a4cc0" stroke-width="1.6"/>
<text transform="translate(69.4 14.9) scale(1.175 1)" font-size="9.0">MaNGA sample</text>
<text transform="translate(69.4 27.3) scale(1.144 1)" font-size="9.0">COS-HALOS</text>
<text transform="translate(69.4 39.6) scale(1.176 1)" font-size="9.0">MaNGA fit</text>
<rect x="690.5" y="9" width="12.2" height="192" fill="url(#cw)" stroke="#111" stroke-width="1.1"/>
<path d="M702.7 57h-4M702.7 105h-4M702.7 153h-4" stroke="#000" stroke-width="1.3"/>
<text transform="translate(707.7 12.6) scale(1.05 1)" font-size="10.6">11.0</text>
<text transform="translate(707.7 60.6) scale(1.05 1)" font-size="10.6">10.5</text>
<text transform="translate(707.7 108.6) scale(1.05 1)" font-size="10.6">10.0</text>
<text transform="translate(707.7 156.6) scale(1.05 1)" font-size="10.6">9.5</text>
<text transform="translate(707.7 204.6) scale(1.05 1)" font-size="10.6">9.0</text>
<text transform="translate(681.6 217.3) scale(1.05 1)" font-size="10.9">log <tspan font-style="italic">M</tspan><tspan dy="1.6" font-size="7.6">∗</tspan></text>
<text transform="translate(684 227.6) scale(1.03 1)" font-size="11.1">[<tspan font-style="italic">M</tspan><tspan dy="2.2" font-size="9">⊙</tspan><tspan dy="-2.2">]</tspan></text>
</svg>
</body></html>
